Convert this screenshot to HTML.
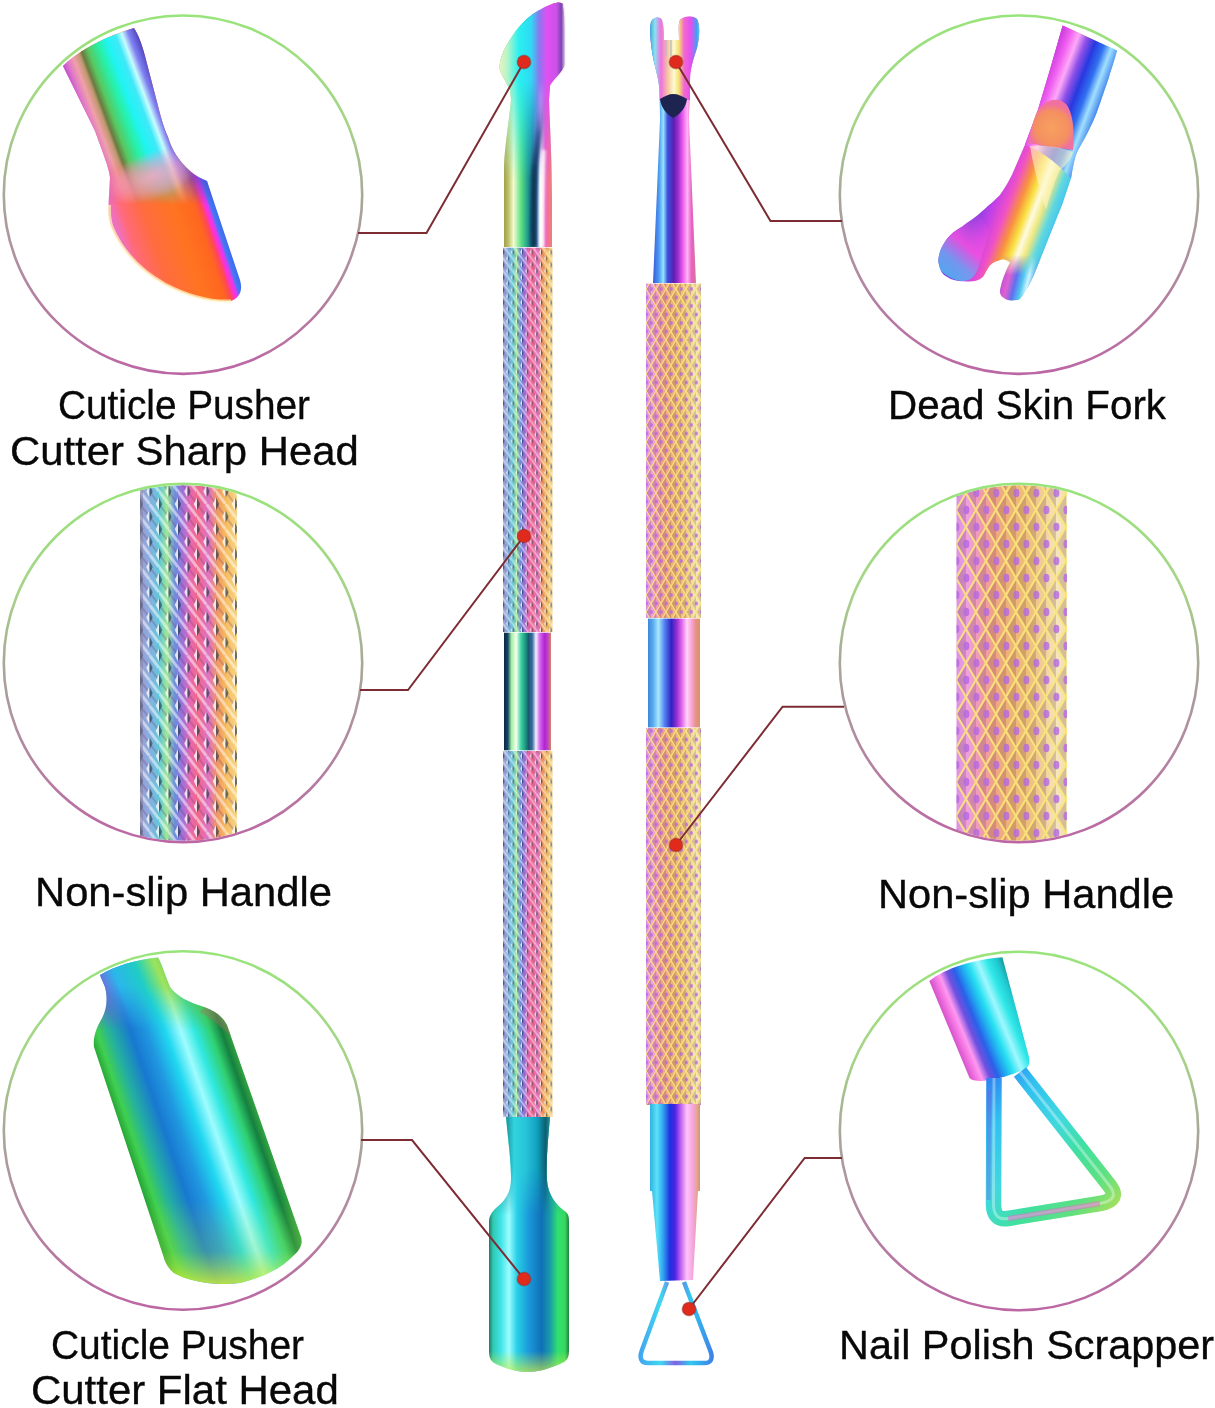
<!DOCTYPE html>
<html><head><meta charset="utf-8">
<style>
html,body{margin:0;padding:0;background:#fff;width:1215px;height:1408px;overflow:hidden}
#s{position:absolute;left:0;top:0}
.t{position:absolute;font-family:"Liberation Sans",sans-serif;font-size:41px;line-height:46px;color:#080808;white-space:nowrap;transform-origin:0 0;-webkit-text-stroke:0.35px #080808}
</style></head><body>
<svg id="s" width="1215" height="1408" viewBox="0 0 1215 1408">
<defs>
<linearGradient id="ring" x1="0" y1="0" x2="0" y2="1">
<stop offset="0" stop-color="#98e47a"/>
<stop offset="0.3" stop-color="#a6d488"/>
<stop offset="0.5" stop-color="#a8a898"/>
<stop offset="0.7" stop-color="#b08ca0"/>
<stop offset="1" stop-color="#bc66a4"/>
</linearGradient>
</defs>
<defs>
<linearGradient id="c1Shaft" gradientUnits="userSpaceOnUse" x1="74" y1="96" x2="150" y2="68">
<stop offset="0" stop-color="#c04cd0"/><stop offset="0.08" stop-color="#e07ac8"/><stop offset="0.16" stop-color="#f0a0a8"/>
<stop offset="0.24" stop-color="#c09870"/><stop offset="0.28" stop-color="#6a7a40"/><stop offset="0.36" stop-color="#58c860"/>
<stop offset="0.5" stop-color="#28f0a8"/><stop offset="0.62" stop-color="#20f4f4"/><stop offset="0.74" stop-color="#40e8f8"/>
<stop offset="0.82" stop-color="#c8fcff"/><stop offset="0.9" stop-color="#8080f0"/><stop offset="1" stop-color="#5048c8"/>
</linearGradient>
<linearGradient id="c1fade" gradientUnits="userSpaceOnUse" x1="0" y1="135" x2="0" y2="205">
<stop offset="0" stop-color="#fff"/><stop offset="0.35" stop-color="#fff"/><stop offset="1" stop-color="#000"/>
</linearGradient>
<mask id="c1m" maskUnits="userSpaceOnUse" x="0" y="0" width="380" height="380"><rect x="0" y="0" width="380" height="380" fill="url(#c1fade)"/></mask>
<linearGradient id="c1Head" gradientUnits="userSpaceOnUse" x1="112" y1="212.3" x2="207.5" y2="181">
<stop offset="0" stop-color="#f070c0"/><stop offset="0.1" stop-color="#ff6a78"/><stop offset="0.3" stop-color="#ff6c40"/>
<stop offset="0.6" stop-color="#ff7420"/><stop offset="0.8" stop-color="#ff6620"/><stop offset="0.86" stop-color="#ff4a50"/>
<stop offset="0.9" stop-color="#ff30d8"/><stop offset="0.93" stop-color="#d040f0"/><stop offset="0.95" stop-color="#4a78f4"/><stop offset="1" stop-color="#3a6af0"/>
</linearGradient>
<linearGradient id="c1Rim" gradientUnits="userSpaceOnUse" x1="150" y1="240" x2="120" y2="280">
<stop offset="0" stop-color="#f8e8a0" stop-opacity="0"/><stop offset="0.5" stop-color="#f8eaa0" stop-opacity="0.2"/><stop offset="1" stop-color="#fff0b0" stop-opacity="0.9"/>
</linearGradient>
<radialGradient id="c1glow"><stop offset="0" stop-color="#f8a8c8" stop-opacity="0.85"/><stop offset="0.6" stop-color="#f0a0d0" stop-opacity="0.5"/><stop offset="1" stop-color="#f0a0d0" stop-opacity="0"/></radialGradient>
<clipPath id="c1clip"><path d="M63,66 C75,54 100,38 134,28 C138,34 142,44 145,56 L157,102 C161,118 164,128 168,137 C172,150 178,160 190,171 C196,176 202,179 207,181 L240,280 C243,290 240,298 231,301 C210,302 188,296 165,284 C140,270 122,250 112,228 C108,218 108,208 109,196 L110,178 C109,168 104,156 95,131 Z"/></clipPath>
<clipPath id="cc1"><circle cx="183" cy="194.7" r="178"/></clipPath>
<clipPath id="cc2"><circle cx="183" cy="663" r="177.8"/></clipPath>
<clipPath id="cc3"><circle cx="183" cy="1130.5" r="178"/></clipPath>
<clipPath id="cc4"><circle cx="1019" cy="194.7" r="178"/></clipPath>
<clipPath id="cc5"><circle cx="1019" cy="663" r="177.8"/></clipPath>
<clipPath id="cc6"><circle cx="1019" cy="1131" r="178"/></clipPath>
</defs>
<g id="c1" clip-path="url(#cc1)">
<path id="c1p" d="M63,66 C75,54 100,38 134,28 C138,34 142,44 145,56 L157,102 C161,118 164,128 168,137 C172,150 178,160 190,171 C196,176 202,179 207,181 L240,280 C243,290 240,298 231,301 C210,302 188,296 165,284 C140,270 122,250 112,228 C108,218 108,208 109,196 L110,178 C109,168 104,156 95,131 Z" fill="url(#c1Head)"/>
<path d="M63,66 C75,54 100,38 134,28 C138,34 142,44 145,56 L157,102 C161,118 164,128 168,137 C172,150 178,160 190,171 C196,176 202,179 207,181 L240,280 C243,290 240,298 231,301 C210,302 188,296 165,284 C140,270 122,250 112,228 C108,218 108,208 109,196 L110,178 C109,168 104,156 95,131 Z" fill="url(#c1Shaft)" mask="url(#c1m)"/>
<g clip-path="url(#c1clip)"><ellipse cx="152" cy="176" rx="50" ry="24" transform="rotate(-20 152 176)" fill="url(#c1glow)"/></g>
<path d="M109.5,205 C109,216 110,222 112.5,228 C122,250 140,270 165,284 C188,296 210,302 231,301" fill="none" stroke="#fff0b8" stroke-width="3" opacity="0.75"/>
</g>
<defs>
<linearGradient id="c2g" gradientUnits="userSpaceOnUse" x1="140" y1="0" x2="237" y2="0">
<stop offset="0" stop-color="#9c9cd0"/><stop offset="0.1" stop-color="#88aee0"/><stop offset="0.2" stop-color="#60c8d8"/>
<stop offset="0.28" stop-color="#a0e890"/><stop offset="0.36" stop-color="#6c8ce0"/><stop offset="0.44" stop-color="#a070d8"/>
<stop offset="0.52" stop-color="#e868b0"/><stop offset="0.6" stop-color="#f06888"/><stop offset="0.7" stop-color="#e070c8"/>
<stop offset="0.8" stop-color="#f09860"/><stop offset="0.9" stop-color="#f8c060"/><stop offset="1" stop-color="#f4d488"/>
</linearGradient>
<pattern id="pC2" patternUnits="userSpaceOnUse" x="140" y="0" width="19" height="25.2">
<path d="M9.5,0 L19,12.6 M0,12.6 L9.5,25.2 M-9.5,0 L0,12.6 M19,25.2 L28.5,37.8 M9.5,-25.2 L28.5,0" stroke="#ffffff" stroke-opacity="0.5" stroke-width="3.0" fill="none"/>
<path d="M0,0 L19,25.2 M19,0 L28.5,12.6 M-9.5,12.6 L0,25.2" stroke="#6a2a70" stroke-opacity="0.25" stroke-width="2.0" fill="none"/>
<g><path d="M0,-6.5 L-3.2,0 L0,6.5 Z" fill="#ffffff" fill-opacity="0.8"/><path d="M0,-6.5 L3.2,0 L0,6.5 Z" fill="#0c3040" fill-opacity="0.55"/></g>
<g transform="translate(19,0)"><path d="M0,-6.5 L-3.2,0 L0,6.5 Z" fill="#ffffff" fill-opacity="0.8"/><path d="M0,-6.5 L3.2,0 L0,6.5 Z" fill="#0c3040" fill-opacity="0.55"/></g><g transform="translate(0,25.2)"><path d="M0,-6.5 L-3.2,0 L0,6.5 Z" fill="#ffffff" fill-opacity="0.8"/><path d="M0,-6.5 L3.2,0 L0,6.5 Z" fill="#0c3040" fill-opacity="0.55"/></g><g transform="translate(19,25.2)"><path d="M0,-6.5 L-3.2,0 L0,6.5 Z" fill="#ffffff" fill-opacity="0.8"/><path d="M0,-6.5 L3.2,0 L0,6.5 Z" fill="#0c3040" fill-opacity="0.55"/></g><g transform="translate(9.5,12.6)"><path d="M0,-6.5 L-3.2,0 L0,6.5 Z" fill="#ffffff" fill-opacity="0.8"/><path d="M0,-6.5 L3.2,0 L0,6.5 Z" fill="#0c3040" fill-opacity="0.55"/></g>
</pattern>
<pattern id="pKnL2" patternUnits="userSpaceOnUse" x="503" y="0" width="9.5" height="12.6">
<path d="M4.75,0 L9.5,6.3 M0,6.3 L4.75,12.6 M-4.75,0 L0,6.3 M9.5,12.6 L14.25,18.9 M4.75,-12.6 L14.25,0" stroke="#ffffff" stroke-opacity="0.5" stroke-width="1.6" fill="none"/>
<path d="M0,0 L9.5,12.6 M9.5,0 L14.25,6.3 M-4.75,6.3 L0,12.6" stroke="#6a2a70" stroke-opacity="0.25" stroke-width="1.1" fill="none"/>
<g><path d="M0,-3.3 L-1.7,0 L0,3.3 Z" fill="#ffffff" fill-opacity="0.8"/><path d="M0,-3.3 L1.7,0 L0,3.3 Z" fill="#0c3040" fill-opacity="0.55"/></g>
<g transform="translate(9.5,0)"><path d="M0,-3.3 L-1.7,0 L0,3.3 Z" fill="#ffffff" fill-opacity="0.8"/><path d="M0,-3.3 L1.7,0 L0,3.3 Z" fill="#0c3040" fill-opacity="0.55"/></g><g transform="translate(0,12.6)"><path d="M0,-3.3 L-1.7,0 L0,3.3 Z" fill="#ffffff" fill-opacity="0.8"/><path d="M0,-3.3 L1.7,0 L0,3.3 Z" fill="#0c3040" fill-opacity="0.55"/></g><g transform="translate(9.5,12.6)"><path d="M0,-3.3 L-1.7,0 L0,3.3 Z" fill="#ffffff" fill-opacity="0.8"/><path d="M0,-3.3 L1.7,0 L0,3.3 Z" fill="#0c3040" fill-opacity="0.55"/></g><g transform="translate(4.75,6.3)"><path d="M0,-3.3 L-1.7,0 L0,3.3 Z" fill="#ffffff" fill-opacity="0.8"/><path d="M0,-3.3 L1.7,0 L0,3.3 Z" fill="#0c3040" fill-opacity="0.55"/></g>
</pattern>
<linearGradient id="c5g" gradientUnits="userSpaceOnUse" x1="956" y1="0" x2="1067" y2="0">
<stop offset="0" stop-color="#d890e0"/><stop offset="0.1" stop-color="#f0a0e0"/><stop offset="0.22" stop-color="#f09ab0"/>
<stop offset="0.34" stop-color="#f0a488"/><stop offset="0.5" stop-color="#eeb478"/><stop offset="0.66" stop-color="#eec07c"/>
<stop offset="0.8" stop-color="#f0d09c"/><stop offset="0.9" stop-color="#f6e6bc"/><stop offset="1" stop-color="#f2e0b0"/>
</linearGradient>
<pattern id="pC5" patternUnits="userSpaceOnUse" x="956" y="0" width="20" height="34">
<g fill="#6a3a30" fill-opacity="0.22"><path d="M0.6,0 L10.0,-16.0 L10.0,16.0 Z"/><path d="M-9.4,17.0 L0,1.0 L0,33.0 Z"/><path d="M10.6,17.0 L20,1.0 L20,33.0 Z"/><path d="M0.6,34 L10.0,18.0 L10.0,50.0 Z"/></g>
<g fill="#b468e0" fill-opacity="0.8"><ellipse cx="10.4" cy="0" rx="3.0" ry="4.2"/><ellipse cx="0.4" cy="17.0" rx="3.0" ry="4.2"/><ellipse cx="20.4" cy="17.0" rx="3.0" ry="4.2"/><ellipse cx="10.4" cy="34" rx="3.0" ry="4.2"/></g>
<path d="M0,0 L20,34 M20,0 L0,34 M-10.0,17.0 L0,34 M10.0,-17.0 L30.0,17.0 M-10.0,17.0 L10.0,-17.0 M10.0,51.0 L30.0,17.0" stroke="#fbe678" stroke-width="2.0" stroke-opacity="0.9" fill="none"/>
</pattern>
<pattern id="pKnR2" patternUnits="userSpaceOnUse" x="646" y="0" width="10" height="17">
<g fill="#6a3a30" fill-opacity="0.22"><path d="M0.6,0 L5.0,-7.5 L5.0,7.5 Z"/><path d="M-4.4,8.5 L0,1.0 L0,16.0 Z"/><path d="M5.6,8.5 L10,1.0 L10,16.0 Z"/><path d="M0.6,17 L5.0,9.5 L5.0,24.5 Z"/></g>
<g fill="#b468e0" fill-opacity="0.8"><ellipse cx="5.4" cy="0" rx="1.5" ry="2.1"/><ellipse cx="0.4" cy="8.5" rx="1.5" ry="2.1"/><ellipse cx="10.4" cy="8.5" rx="1.5" ry="2.1"/><ellipse cx="5.4" cy="17" rx="1.5" ry="2.1"/></g>
<path d="M0,0 L10,17 M10,0 L0,17 M-5.0,8.5 L0,17 M5.0,-8.5 L15.0,8.5 M-5.0,8.5 L5.0,-8.5 M5.0,25.5 L15.0,8.5" stroke="#fbe678" stroke-width="1.1" stroke-opacity="0.9" fill="none"/>
</pattern>
<linearGradient id="c3g" gradientUnits="userSpaceOnUse" x1="93.7" y1="1047" x2="219.5" y2="1004">
<stop offset="0" stop-color="#28a838"/><stop offset="0.06" stop-color="#40d050"/><stop offset="0.16" stop-color="#24b0a0"/>
<stop offset="0.3" stop-color="#1878d0"/><stop offset="0.42" stop-color="#2098e0"/><stop offset="0.55" stop-color="#20d8f0"/>
<stop offset="0.66" stop-color="#a0fcff"/><stop offset="0.76" stop-color="#30e8e0"/><stop offset="0.87" stop-color="#30d070"/>
<stop offset="0.95" stop-color="#158040"/><stop offset="1" stop-color="#30a040"/>
</linearGradient>
<linearGradient id="c3b" gradientUnits="userSpaceOnUse" x1="0" y1="1200" x2="0" y2="1285">
<stop offset="0" stop-color="#c8e830" stop-opacity="0"/><stop offset="0.6" stop-color="#a0e040" stop-opacity="0.25"/><stop offset="1" stop-color="#d8f030" stop-opacity="0.85"/>
</linearGradient>
<linearGradient id="c3nf" gradientUnits="userSpaceOnUse" x1="0" y1="985" x2="0" y2="1030"><stop offset="0" stop-color="#fff"/><stop offset="1" stop-color="#000"/></linearGradient>
<mask id="c3nm" maskUnits="userSpaceOnUse" x="80" y="940" width="180" height="110"><rect x="80" y="940" width="180" height="110" fill="url(#c3nf)"/></mask>
<linearGradient id="c3n" gradientUnits="userSpaceOnUse" x1="100" y1="990" x2="170" y2="960">
<stop offset="0" stop-color="#9050e0"/><stop offset="0.25" stop-color="#30c0f0"/><stop offset="0.55" stop-color="#20d0c0"/>
<stop offset="0.8" stop-color="#a0e040"/><stop offset="1" stop-color="#60c040"/>
</linearGradient>
<linearGradient id="c4s" gradientUnits="userSpaceOnUse" x1="1050" y1="65" x2="1112" y2="88">
<stop offset="0" stop-color="#d040e0"/><stop offset="0.12" stop-color="#f060f0"/><stop offset="0.25" stop-color="#ffa8f8"/>
<stop offset="0.38" stop-color="#9050e8"/><stop offset="0.52" stop-color="#2838e0"/><stop offset="0.66" stop-color="#3070f0"/>
<stop offset="0.78" stop-color="#a0e0ff"/><stop offset="0.9" stop-color="#5090f0"/><stop offset="1" stop-color="#3050d0"/>
</linearGradient>
<linearGradient id="c4f" gradientUnits="userSpaceOnUse" x1="975" y1="215" x2="1059" y2="246.6">
<stop offset="0" stop-color="#8040e0"/><stop offset="0.15" stop-color="#c040e8"/><stop offset="0.3" stop-color="#f050c8"/>
<stop offset="0.42" stop-color="#f89040"/><stop offset="0.52" stop-color="#f8e040"/><stop offset="0.6" stop-color="#fffbe0"/>
<stop offset="0.68" stop-color="#f0e880"/><stop offset="0.78" stop-color="#60d8e0"/><stop offset="0.9" stop-color="#40c0f0"/><stop offset="1" stop-color="#4080e0"/>
</linearGradient>
<linearGradient id="c4blob" gradientUnits="userSpaceOnUse" x1="940" y1="280" x2="990" y2="220">
<stop offset="0" stop-color="#40b8f0"/><stop offset="0.3" stop-color="#70a0f0"/><stop offset="0.55" stop-color="#f050e0"/><stop offset="1" stop-color="#f050e0" stop-opacity="0"/>
</linearGradient>
<linearGradient id="c4p" gradientUnits="userSpaceOnUse" x1="999" y1="282" x2="1033" y2="290">
<stop offset="0" stop-color="#b050e0"/><stop offset="0.25" stop-color="#e060d0"/><stop offset="0.45" stop-color="#6070f0"/><stop offset="0.65" stop-color="#50c8f0"/><stop offset="0.8" stop-color="#d0f4ff"/><stop offset="1" stop-color="#40a0e0"/>
</linearGradient>
<linearGradient id="c4pf" gradientUnits="userSpaceOnUse" x1="0" y1="255" x2="0" y2="275"><stop offset="0" stop-color="#000"/><stop offset="1" stop-color="#fff"/></linearGradient>
<mask id="c4pm" maskUnits="userSpaceOnUse" x="990" y="250" width="60" height="60"><rect x="990" y="250" width="60" height="60" fill="url(#c4pf)"/></mask>
<radialGradient id="c4o" cx="1052" cy="128" r="24" gradientUnits="userSpaceOnUse">
<stop offset="0" stop-color="#f8a060"/><stop offset="0.7" stop-color="#f49060"/><stop offset="1" stop-color="#f070a0"/>
</radialGradient>
<linearGradient id="c6s" gradientUnits="userSpaceOnUse" x1="929" y1="981" x2="1000" y2="952">
<stop offset="0" stop-color="#d050c8"/><stop offset="0.08" stop-color="#f070e0"/><stop offset="0.16" stop-color="#ff98f0"/>
<stop offset="0.26" stop-color="#7050e0"/><stop offset="0.36" stop-color="#2a60e8"/><stop offset="0.46" stop-color="#20a8f0"/>
<stop offset="0.56" stop-color="#28e0f0"/><stop offset="0.68" stop-color="#a0f8ff"/><stop offset="0.8" stop-color="#30e8e8"/>
<stop offset="0.92" stop-color="#20c8d0"/><stop offset="1" stop-color="#189898"/>
</linearGradient>
<linearGradient id="c6w" gradientUnits="userSpaceOnUse" x1="985" y1="1080" x2="1120" y2="1200">
<stop offset="0" stop-color="#3080f0"/><stop offset="0.2" stop-color="#30c0f0"/><stop offset="0.45" stop-color="#40d8e0"/>
<stop offset="0.65" stop-color="#40e0a0"/><stop offset="0.85" stop-color="#60e080"/><stop offset="1" stop-color="#a0e060"/>
</linearGradient>
</defs>
<g clip-path="url(#cc2)">
<rect x="140" y="480" width="97" height="370" fill="url(#c2g)"/>
<rect x="140" y="480" width="97" height="370" fill="url(#pC2)"/>
<rect x="140" y="480" width="3" height="370" fill="#8080a0" opacity="0.5"/>
</g>
<g clip-path="url(#cc5)">
<rect x="956.5" y="480" width="110.5" height="370" fill="url(#c5g)"/>
<rect x="956.5" y="480" width="110.5" height="370" fill="url(#pC5)"/>
</g>
<g clip-path="url(#cc3)">
<path d="M100,975 C115,966 135,960 158,957.5 C161,962 164,972 170,987 C176,996 190,1003 204,1007 C215,1011 222,1016 227,1025 L301,1237 C303,1244 300,1250 293,1256 C282,1268 262,1278 240,1283 C215,1286 190,1282 174,1273 C168,1268 165,1262 164,1258 L94,1047 C93,1040 95,1030 101,1020 C107,1010 108,998 105,987 C103,982 101,978 100,975 Z" fill="url(#c3g)"/>
<path d="M100,975 C115,966 135,960 158,957.5 C161,962 164,972 170,987 C176,996 190,1003 204,1007 C215,1011 222,1016 227,1025 L301,1237 C303,1244 300,1250 293,1256 C282,1268 262,1278 240,1283 C215,1286 190,1282 174,1273 C168,1268 165,1262 164,1258 L94,1047 C93,1040 95,1030 101,1020 C107,1010 108,998 105,987 C103,982 101,978 100,975 Z" fill="url(#c3n)" opacity="0.85" mask="url(#c3nm)"/>
<path d="M100,975 C115,966 135,960 158,957.5 C161,962 164,972 170,987 C176,996 190,1003 204,1007 C215,1011 222,1016 227,1025 L301,1237 C303,1244 300,1250 293,1256 C282,1268 262,1278 240,1283 C215,1286 190,1282 174,1273 C168,1268 165,1262 164,1258 L94,1047 C93,1040 95,1030 101,1020 C107,1010 108,998 105,987 C103,982 101,978 100,975 Z" fill="url(#c3b)"/>
<path d="M204,1007 C215,1011 222,1016 227,1025 L231,1036 C222,1028 212,1019 200,1012 Z" fill="#b06868" opacity="0.35"/>
</g>
<g clip-path="url(#cc4)">
<path d="M1062.6,25.5 L1117,50.6 C1114,62 1111,70 1108.7,78 L1098,109 C1094,120 1091,126 1087.7,132.4 C1082,144 1077,150 1075,158 C1073,166 1072,172 1071,178.5 L1062.6,203.7 L1050,235 L1037.4,266.6 C1033,278 1029,286 1024.8,291.7 C1022,297 1020,300 1016.4,300.1 C1010,301 1006,300 1003.9,298 C1000,296 999,292 1000.7,287 C1002,281 1005,272 1010,262.4 C1006,259 1002,259 999.7,260.3 C994,262 991,264 989.2,266.6 C986,271 985,275 982.9,277 C979,280 976,281 972.4,281.2 C965,282 957,281 951.4,279.2 C946,277 942,274 941,270.8 C938,264 938,260 938.9,256 C940,250 942,246 945.2,241.4 C950,234 956,230 961.9,226.7 C968,222 974,218 978.7,214.2 C988,206 995,200 999.7,195.3 C1005,188 1009,181 1012.2,174.3 L1024.8,145 L1037.4,111.4 L1050,69.5 Z" fill="url(#c4f)"/>
<path d="M1062.6,25.5 L1117,50.6 C1114,62 1111,70 1108.7,78 L1098,109 C1094,120 1091,126 1087.7,132.4 C1082,144 1077,150 1075,158 C1073,166 1072,172 1071,178.5 C1062,168 1045,152 1024.8,145 L1037.4,111.4 L1050,69.5 Z" fill="url(#c4s)"/>
<path d="M1036,114 C1041,101 1057,95 1066,104 C1073,112 1075,132 1073,150 C1060,148 1042,146 1028,143 C1030,132 1033,122 1036,114 Z" fill="url(#c4o)"/>
<path d="M1030,146 C1045,145 1062,147 1073,152 C1070,160 1066,166 1060,170 C1055,180 1050,195 1046,210 C1040,190 1034,170 1030,146 Z" fill="#fff6c8" opacity="0.6"/>
<path d="M999,255 L1042,255 L1037.4,266.6 C1033,278 1029,286 1024.8,291.7 C1022,297 1020,300 1016.4,300.1 C1010,301 1006,300 1003.9,298 C1000,296 999,292 1000.7,287 C1002,281 1005,272 1010,262.4 Z" fill="url(#c4p)" mask="url(#c4pm)"/>
<path d="M941,270.8 C938,264 938,260 938.9,256 C940,250 942,246 945.2,241.4 C950,234 956,230 961.9,226.7 C968,222 974,218 978.7,214.2 L990,230 L980,262 C976,278 970,281 962,281 C955,281 946,276 941,270.8 Z" fill="url(#c4blob)" opacity="0.9"/>
</g>
<g clip-path="url(#cc6)">
<path d="M929.3,981 C945,968 975,959 1002.4,957.2 L1029,1057 C1030,1063 1029,1067 1025,1069 C1012,1075 995,1080 982,1081 C975,1081 971,1080 969.4,1077.7 Z" fill="url(#c6s)"/>
<path d="M994,1078 L993.5,1204 Q993.5,1221 1008,1218.5 L1100,1203.5 Q1121,1200 1109,1185 L1020,1072" fill="none" stroke="url(#c6w)" stroke-width="15.5" stroke-linejoin="round"/>
<path d="M994,1078 L993.5,1204 Q993.5,1221 1008,1218.5 L1100,1203.5 Q1121,1200 1109,1185 L1020,1072" fill="none" stroke="#ffffff" stroke-opacity="0.35" stroke-width="3"/>
<path d="M1008,1218.5 L1100,1203.5" fill="none" stroke="#f060d0" stroke-opacity="0.5" stroke-width="5"/>
<path d="M994,1090 L993.5,1200" fill="none" stroke="#8050e0" stroke-opacity="0.35" stroke-width="4" transform="translate(-5,0)"/>
</g>
<g fill="none" stroke="url(#ring)" stroke-width="2.6">
<circle cx="183" cy="194.7" r="179.2"/>
<circle cx="183" cy="663" r="179.2"/>
<circle cx="183" cy="1130.5" r="179.2"/>
<circle cx="1019" cy="194.7" r="179.2"/>
<circle cx="1019" cy="663" r="179.2"/>
<circle cx="1019" cy="1131" r="179.2"/>
</g>
<defs>
<linearGradient id="lHead" gradientUnits="userSpaceOnUse" x1="499" y1="0" x2="566" y2="0">
<stop offset="0" stop-color="#e8f4c0"/><stop offset="0.12" stop-color="#b8f4c8"/><stop offset="0.3" stop-color="#28f0f0"/>
<stop offset="0.48" stop-color="#30d8f4"/><stop offset="0.6" stop-color="#8a78f0"/><stop offset="0.72" stop-color="#e24ef2"/>
<stop offset="0.86" stop-color="#c852e8"/><stop offset="0.93" stop-color="#7a44b0"/><stop offset="1" stop-color="#f4e4f8"/>
</linearGradient>
<linearGradient id="lShaft" gradientUnits="userSpaceOnUse" x1="504" y1="0" x2="552" y2="0">
<stop offset="0" stop-color="#a0a050"/><stop offset="0.08" stop-color="#b8bc60"/><stop offset="0.2" stop-color="#f4fcd0"/>
<stop offset="0.36" stop-color="#58e080"/><stop offset="0.5" stop-color="#209890"/><stop offset="0.6" stop-color="#1a6a80"/>
<stop offset="0.68" stop-color="#4a88c8"/><stop offset="0.76" stop-color="#ffffff"/><stop offset="0.86" stop-color="#f068c0"/>
<stop offset="1" stop-color="#f08268"/>
</linearGradient>
<linearGradient id="lStripe" gradientUnits="userSpaceOnUse" x1="0" y1="96" x2="0" y2="175"><stop offset="0" stop-color="#7050c8" stop-opacity="0"/><stop offset="0.5" stop-color="#283c80" stop-opacity="0.75"/><stop offset="1" stop-color="#0c3454" stop-opacity="0.95"/></linearGradient>
<filter id="bl1" x="-50%" y="-10%" width="200%" height="120%"><feGaussianBlur stdDeviation="1.4"/></filter>
<linearGradient id="fadeV" x1="0" y1="0" x2="0" y2="1">
<stop offset="0" stop-color="#fff"/><stop offset="0.45" stop-color="#fff"/><stop offset="1" stop-color="#000"/>
</linearGradient>
<linearGradient id="fadeN" gradientUnits="userSpaceOnUse" x1="0" y1="1110" x2="0" y2="1215"><stop offset="0" stop-color="#fff"/><stop offset="0.55" stop-color="#fff"/><stop offset="1" stop-color="#000"/></linearGradient>
<mask id="mNeck" maskUnits="userSpaceOnUse" x="480" y="1100" width="100" height="130"><rect x="480" y="1100" width="100" height="130" fill="url(#fadeN)"/></mask>
<mask id="mHead" maskUnits="userSpaceOnUse" x="490" y="0" width="90" height="250"><rect x="490" y="0" width="90" height="180" fill="url(#fadeV)"/></mask>
<linearGradient id="lKnurl" gradientUnits="userSpaceOnUse" x1="503" y1="0" x2="552" y2="0">
<stop offset="0" stop-color="#9c9cd0"/><stop offset="0.1" stop-color="#88aee0"/><stop offset="0.2" stop-color="#60c8d8"/>
<stop offset="0.28" stop-color="#a0e890"/><stop offset="0.36" stop-color="#6c8ce0"/><stop offset="0.44" stop-color="#a070d8"/>
<stop offset="0.52" stop-color="#e868b0"/><stop offset="0.6" stop-color="#f06888"/><stop offset="0.7" stop-color="#e070c8"/>
<stop offset="0.8" stop-color="#f09860"/><stop offset="0.9" stop-color="#f8c060"/><stop offset="1" stop-color="#f4d488"/>
</linearGradient>
<pattern id="pKnL" patternUnits="userSpaceOnUse" width="11" height="11" patternTransform="skewY(0)">
<path d="M-3,-5 L14,16 M-14,-5 L3,16 M8,-5 L25,16" stroke="#ffffff" stroke-opacity="0.55" stroke-width="1.6" fill="none"/>
<path d="M-1,-6 L16,15 M-12,-6 L5,15" stroke="#30305a" stroke-opacity="0.35" stroke-width="1.1" fill="none"/>
<path d="M4,2 l2,4 l-2,3 l-2,-3 z" fill="#1a2a5a" fill-opacity="0.45"/>
</pattern>
<linearGradient id="lMid" gradientUnits="userSpaceOnUse" x1="504" y1="0" x2="551" y2="0">
<stop offset="0" stop-color="#08284a"/><stop offset="0.08" stop-color="#124462"/><stop offset="0.16" stop-color="#a4f0a0"/>
<stop offset="0.26" stop-color="#f2fff2"/><stop offset="0.36" stop-color="#40d4a0"/><stop offset="0.45" stop-color="#1c9c84"/>
<stop offset="0.52" stop-color="#1a5a70"/><stop offset="0.6" stop-color="#3a6aa0"/><stop offset="0.68" stop-color="#f2f0ff"/>
<stop offset="0.76" stop-color="#d868f0"/><stop offset="0.86" stop-color="#b024d4"/><stop offset="0.93" stop-color="#c040c0"/>
<stop offset="1" stop-color="#d08868"/>
</linearGradient>
<linearGradient id="lNeck" gradientUnits="userSpaceOnUse" x1="505" y1="0" x2="551" y2="0">
<stop offset="0" stop-color="#1a8a90"/><stop offset="0.2" stop-color="#30d4e0"/><stop offset="0.45" stop-color="#28c4d8"/>
<stop offset="0.7" stop-color="#10a0c0"/><stop offset="0.88" stop-color="#0e6070"/><stop offset="1" stop-color="#20a0a0"/>
</linearGradient>
<linearGradient id="lFlat" gradientUnits="userSpaceOnUse" x1="489" y1="0" x2="569" y2="0">
<stop offset="0" stop-color="#1e7a6a"/><stop offset="0.05" stop-color="#30c8b0"/><stop offset="0.15" stop-color="#40e4e8"/>
<stop offset="0.25" stop-color="#9cfcff"/><stop offset="0.35" stop-color="#28d0e8"/><stop offset="0.5" stop-color="#1a98d8"/>
<stop offset="0.66" stop-color="#1070b8"/><stop offset="0.76" stop-color="#189aa8"/><stop offset="0.86" stop-color="#30e070"/>
<stop offset="0.95" stop-color="#38d860"/><stop offset="1" stop-color="#1e8040"/>
</linearGradient>
<linearGradient id="lFlatB" x1="0" y1="0" x2="0" y2="1">
<stop offset="0" stop-color="#c8f040" stop-opacity="0"/><stop offset="0.86" stop-color="#c8f040" stop-opacity="0"/><stop offset="1" stop-color="#d0f040" stop-opacity="0.7"/>
</linearGradient>
</defs>
<g id="toolL">
<path d="M504,247 L504,170 C504,150 508,130 511,100 L510,90 L500,71 C499,66 500,60 504,50 C515,28 530,12 552,4 C557,2 561,2 563,4 C565,8 565,20 565,40 L565,64 C564,72 554,78 550,86 L549,100 C550,130 552,160 552,200 L552,247 Z" fill="url(#lShaft)"/>
<path d="M504,247 L504,170 C504,150 508,130 511,100 L510,90 L500,71 C499,66 500,60 504,50 C515,28 530,12 552,4 C557,2 561,2 563,4 C565,8 565,20 565,40 L565,64 C564,72 554,78 550,86 L549,100 C550,130 552,160 552,200 L552,247 Z" fill="url(#lHead)" mask="url(#mHead)"/>
<path d="M540,96 C542,96 544,100 544,106 C543,130 540,150 538,166 C537,185 537,210 537,247 L530.5,247 C530.5,210 531,186 532,168 C534,148 537,128 538,106 C538,100 538.5,96 540,96 Z" fill="url(#lStripe)" filter="url(#bl1)"/>
<path d="M545.5,150 C545,170 544,190 544,247 L539.5,247 C539.5,190 540.5,170 542,150 Z" fill="#ffffff" filter="url(#bl1)" opacity="0.9"/>
<path d="M563.5,5 C565,10 565.5,22 565.5,40 L565.5,64 C564.5,72 555,78 550.5,86" fill="none" stroke="#fff0fa" stroke-width="1.3" opacity="0.9"/>
<rect x="503" y="247" width="49.5" height="385" fill="url(#lKnurl)"/>
<rect x="503" y="247" width="49.5" height="385" fill="url(#pKnL2)"/>
<rect x="504" y="632" width="47" height="119" fill="url(#lMid)"/>
<path d="M503,247.5 L552.5,247.5 M504,632.5 L551,632.5 M504,750.5 L551,750.5" stroke="#ffffff" stroke-opacity="0.7" stroke-width="1.2"/>
<rect x="503" y="751" width="49.5" height="366" fill="url(#lKnurl)"/>
<rect x="503" y="751" width="49.5" height="366" fill="url(#pKnL2)"/>
<path id="lfull" d="M506,1117 L550,1117 C548,1140 546,1160 547,1180 C548,1195 556,1205 566,1212 C569,1215 569,1218 569,1222 L569,1350 C569,1358 567,1361 560,1364 C548,1369 538,1372 527,1372 C515,1372 505,1368 496,1364 C490,1361 489,1357 489,1350 L489,1222 C489,1216 492,1212 496,1208 C506,1200 511,1192 511,1178 C511,1160 508,1140 506,1117 Z" fill="url(#lFlat)"/>
<path d="M506,1117 L550,1117 C548,1140 546,1160 547,1180 C548,1195 556,1205 566,1212 C569,1215 569,1218 569,1222 L569,1350 C569,1358 567,1361 560,1364 C548,1369 538,1372 527,1372 C515,1372 505,1368 496,1364 C490,1361 489,1357 489,1350 L489,1222 C489,1216 492,1212 496,1208 C506,1200 511,1192 511,1178 C511,1160 508,1140 506,1117 Z" fill="url(#lNeck)" mask="url(#mNeck)"/>
<path d="M489,1222 L569,1222 L569,1350 C569,1358 567,1361 560,1364 C548,1369 538,1372 527,1372 C515,1372 505,1368 496,1364 C490,1361 489,1357 489,1350 Z" fill="url(#lFlatB)"/>
</g>
<defs>
<linearGradient id="rFork" gradientUnits="userSpaceOnUse" x1="650" y1="0" x2="700" y2="0">
<stop offset="0" stop-color="#38b0d8"/><stop offset="0.1" stop-color="#90e0f0"/><stop offset="0.22" stop-color="#f070e0"/>
<stop offset="0.36" stop-color="#f4c8a0"/><stop offset="0.48" stop-color="#fffbd0"/><stop offset="0.58" stop-color="#f4e070"/>
<stop offset="0.68" stop-color="#f468d0"/><stop offset="0.82" stop-color="#e050f0"/><stop offset="0.93" stop-color="#4a9cf0"/>
<stop offset="1" stop-color="#58d0f0"/>
</linearGradient>
<linearGradient id="rShaft" gradientUnits="userSpaceOnUse" x1="653" y1="0" x2="696" y2="0">
<stop offset="0" stop-color="#3a58dc"/><stop offset="0.14" stop-color="#4a9cf0"/><stop offset="0.24" stop-color="#98e4ff"/>
<stop offset="0.34" stop-color="#3c50e0"/><stop offset="0.48" stop-color="#5a20b0"/><stop offset="0.58" stop-color="#9a2ccc"/>
<stop offset="0.7" stop-color="#f060f0"/><stop offset="0.8" stop-color="#ffb4f4"/><stop offset="0.9" stop-color="#e660c4"/>
<stop offset="1" stop-color="#d47890"/>
</linearGradient>
<linearGradient id="rKnurl" gradientUnits="userSpaceOnUse" x1="646" y1="0" x2="701" y2="0">
<stop offset="0" stop-color="#d890e0"/><stop offset="0.1" stop-color="#f0a0e0"/><stop offset="0.22" stop-color="#f09ab0"/>
<stop offset="0.34" stop-color="#f0a488"/><stop offset="0.5" stop-color="#eeb478"/><stop offset="0.66" stop-color="#eec07c"/>
<stop offset="0.8" stop-color="#f0d09c"/><stop offset="0.9" stop-color="#f6e6bc"/><stop offset="1" stop-color="#f2e0b0"/>
</linearGradient>
<pattern id="pKnR" patternUnits="userSpaceOnUse" width="9" height="11">
<path d="M-4.5,-5.5 L13.5,16.5 M4.5,-5.5 L-13.5,16.5 M13.5,-5.5 L-4.5,16.5 M-13.5,-5.5 L4.5,16.5" stroke="#f8e070" stroke-opacity="0.7" stroke-width="1.3" fill="none"/>
<ellipse cx="4.5" cy="5.5" rx="1.8" ry="2.2" fill="#a070d8" fill-opacity="0.75"/>
<ellipse cx="0" cy="0" rx="1.2" ry="1.6" fill="#ffffff" fill-opacity="0.6"/>
</pattern>
<linearGradient id="rMid" gradientUnits="userSpaceOnUse" x1="648" y1="0" x2="700" y2="0">
<stop offset="0" stop-color="#3c88d8"/><stop offset="0.1" stop-color="#5cacf0"/><stop offset="0.2" stop-color="#a8e8ff"/>
<stop offset="0.32" stop-color="#5080f0"/><stop offset="0.45" stop-color="#3420c4"/><stop offset="0.55" stop-color="#9030d0"/>
<stop offset="0.65" stop-color="#e464ec"/><stop offset="0.75" stop-color="#ffd4f8"/><stop offset="0.85" stop-color="#f8a0d0"/>
<stop offset="0.92" stop-color="#e49480"/><stop offset="1" stop-color="#dc9070"/>
</linearGradient>
<linearGradient id="rLow" gradientUnits="userSpaceOnUse" x1="650" y1="0" x2="700" y2="0">
<stop offset="0" stop-color="#30b0e0"/><stop offset="0.14" stop-color="#5ae4f8"/><stop offset="0.26" stop-color="#30a4f0"/>
<stop offset="0.4" stop-color="#2030e0"/><stop offset="0.5" stop-color="#4a24e4"/><stop offset="0.62" stop-color="#c464f0"/>
<stop offset="0.74" stop-color="#ffc4f8"/><stop offset="0.86" stop-color="#f4a4e0"/><stop offset="0.95" stop-color="#e4a480"/>
<stop offset="1" stop-color="#d09080"/>
</linearGradient>
<linearGradient id="rWire" gradientUnits="userSpaceOnUse" x1="638" y1="0" x2="713" y2="0">
<stop offset="0" stop-color="#40a0f0"/><stop offset="0.3" stop-color="#40d8f0"/><stop offset="0.5" stop-color="#8060e0"/>
<stop offset="0.7" stop-color="#30c8f0"/><stop offset="1" stop-color="#4080e8"/>
</linearGradient>
</defs>
<g id="toolR">
<path d="M660,120 C660,110 659.5,100 659.5,92 C659.5,84 657,74 654,62 C651,48 649,30 651,22 C653,17 660,16 662,20 C664,26 664,34 664,40 L679,40 C679,32 678,24 680,20 C683,16 693,15 697,19 C700,24 700,36 697,48 C694,58 690,68 690,80 L690,92 C690,102 689,110 689,120 L696,283 L653,283 Z" fill="url(#rShaft)"/>
<path d="M659.5,100 L659.5,92 C659.5,84 657,74 654,62 C651,48 649,30 651,22 C653,17 660,16 662,20 C664,26 664,34 664,40 L679,40 C679,32 678,24 680,20 C683,16 693,15 697,19 C700,24 700,36 697,48 C694,58 690,68 690,80 L690,100 Z" fill="url(#rFork)"/>
<path d="M666,40 L666,56 M671,40 L671,56" stroke="#b8bcc0" stroke-width="1.3" fill="none"/>
<path d="M660,99 C665,96 669,94 673,94 C678,94 682,96 687,99 C686,107 681,114 673,118 C666,114 661,107 660,99 Z" fill="#1e2450"/>
<rect x="646" y="283" width="55" height="335" fill="url(#rKnurl)"/>
<rect x="646" y="283" width="55" height="335" fill="url(#pKnR2)"/>
<rect x="648" y="618" width="52" height="110" fill="url(#rMid)"/>
<path d="M646,283.5 L701,283.5 M648,618.5 L700,618.5 M648,727.5 L700,727.5 M646,1104 L701,1104" stroke="#ffffff" stroke-opacity="0.6" stroke-width="1.2"/>
<rect x="646" y="728" width="55" height="377" fill="url(#rKnurl)"/>
<rect x="646" y="728" width="55" height="377" fill="url(#pKnR2)"/>
<path d="M650,1104 L700,1104 L700,1191 L698,1191 L693,1280 L660,1281 L652,1191 L650,1191 Z" fill="url(#rLow)"/>
<path d="M667,1282 L642,1350 C639,1358 641,1363 648,1363 L705,1363 C712,1363 713,1357 710,1350 L684,1282" fill="none" stroke="url(#rWire)" stroke-width="4.5" stroke-linejoin="round"/>
</g>
<g fill="none" stroke="#7e2c34" stroke-width="2">
<polyline points="524,62 426.5,233 358,233"/>
<polyline points="524,536 408,690 360,690"/>
<polyline points="524,1279 412,1140 361,1140"/>
<polyline points="676,62 770.5,221 842,221"/>
<polyline points="676,845 782.6,706.7 844,706.7"/>
<polyline points="689,1309 804.7,1158 842,1158"/>
</g>
<g fill="#e02a1c" stroke="#7a3030" stroke-opacity="0.35" stroke-width="1.6">
<circle cx="524" cy="62" r="6.8"/>
<circle cx="524" cy="536" r="6.8"/>
<circle cx="524" cy="1279" r="6.8"/>
<circle cx="676" cy="62" r="6.8"/>
<circle cx="676" cy="845" r="6.8"/>
<circle cx="689" cy="1309" r="6.8"/>
</g>
</svg>
<div class="t" style="left:58px;top:381.8px;transform:scaleX(0.945)">Cuticle Pusher</div>
<div class="t" style="left:10px;top:427.8px;transform:scaleX(1.02)">Cutter Sharp Head</div>
<div class="t" style="left:35px;top:869.3px;transform:scaleX(1.018)">Non-slip Handle</div>
<div class="t" style="left:51px;top:1321.5px;transform:scaleX(0.949)">Cuticle Pusher</div>
<div class="t" style="left:31px;top:1366.8px;transform:scaleX(1.023)">Cutter Flat Head</div>
<div class="t" style="left:887.5px;top:382.4px;transform:scaleX(0.984)">Dead Skin Fork</div>
<div class="t" style="left:877.5px;top:870.8px;transform:scaleX(1.015)">Non-slip Handle</div>
<div class="t" style="left:839px;top:1322.4px;transform:scaleX(1.01)">Nail Polish Scrapper</div>
</body></html>
